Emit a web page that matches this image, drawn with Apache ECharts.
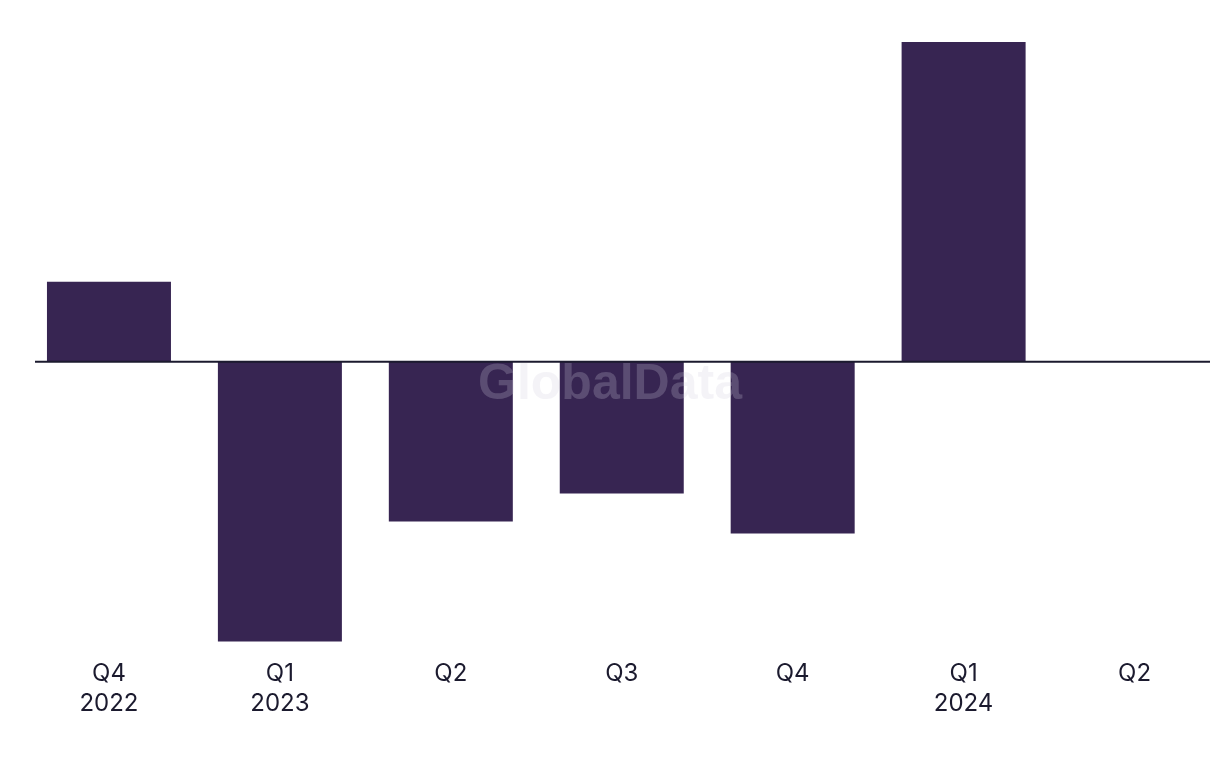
<!DOCTYPE html>
<html>
<head>
<meta charset="utf-8">
<script src="https://cdn.jsdelivr.net/npm/echarts@6/dist/echarts.min.js"></script>
<style>
html,body{margin:0;padding:0;background:#ffffff;}
#chart{width:1220px;height:768px;}
</style>
</head>
<body>
<div id="chart"></div>
<script>
var categories = ['Q4\n2022', 'Q1\n2023', 'Q2', 'Q3', 'Q4', 'Q1\n2024', 'Q2'];
var values = [2.0, -7.0, -4.0, -3.3, -4.3, 8.0, 0];
var yMin = -7;
var yMax = 8;

var chart = echarts.init(document.getElementById('chart'), null, {renderer: 'canvas'});
var option = {
  backgroundColor: '#ffffff',
  animation: false,
  grid: {left: 23.5, top: 42, width: 1203, height: 599.5, containLabel: false},
  xAxis: {
    type: 'category',
    data: categories,
    axisLine: {show: false, onZero: false},
    axisTick: {show: false},
    splitLine: {show: false},
    axisLabel: {
      color: '#1b1a2e',
      fontFamily: 'Inter',
      fontSize: 24,
      lineHeight: 30,
      margin: 17,
      interval: 0
    }
  },
  yAxis: {
    type: 'value',
    min: yMin,
    max: yMax,
    show: false,
    splitLine: {show: false}
  },
  series: [{
    type: 'bar',
    data: values,
    barWidth: 124,
    itemStyle: {color: '#372552'}
  }]
};
chart.setOption(option);

var y0 = chart.convertToPixel({yAxisIndex: 0}, 0);
chart.setOption({
  graphic: [
    {
      type: 'line',
      z: 100,
      shape: {x1: 35, y1: y0, x2: 1210, y2: y0},
      style: {stroke: '#1b1a2e', lineWidth: 2}
    },
    {
      type: 'text',
      z: 101,
      left: 'center',
      top: 360,
      style: {
        text: 'GlobalData',
        font: 'bold 50px "Liberation Sans", Arial, sans-serif',
        fill: 'rgba(208,205,222,0.24)'
      }
    }
  ]
});
</script>
</body>
</html>
